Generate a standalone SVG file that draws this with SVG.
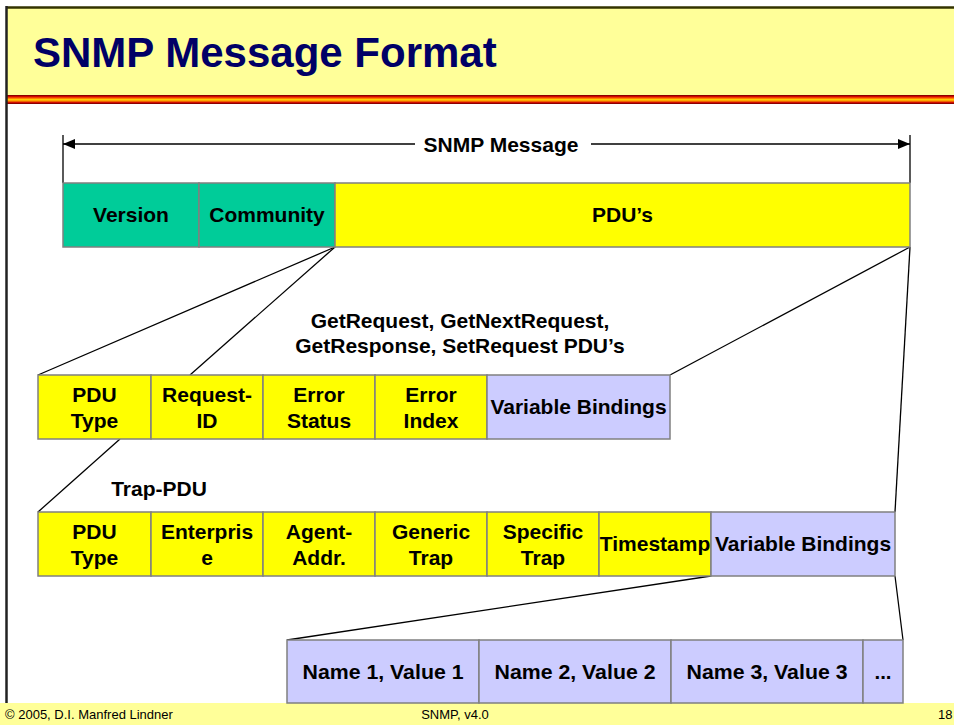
<svg xmlns="http://www.w3.org/2000/svg" width="954" height="725" viewBox="0 0 954 725">
  <style>
    .lbl { font-family: "Liberation Sans", Arial, sans-serif; font-weight: bold; font-size: 21px; fill: #000; text-anchor: middle; }
    .small { font-size: 20.5px; }
    .foot { font-family: "Liberation Sans", Arial, sans-serif; font-size: 13px; fill: #000; }
    .teal { fill: #00CC99; stroke: #808080; stroke-width: 1.5; }
    .yel { fill: #FFFF00; stroke: #808080; stroke-width: 1.5; }
    .lav { fill: #CCCCFF; stroke: #808080; stroke-width: 1.5; }
    .conn { stroke: #000; stroke-width: 1.3; fill: none; }
  </style>
  <defs>
    <linearGradient id="stripe" x1="0" y1="0" x2="0" y2="1">
      <stop offset="0" stop-color="#660000"/>
      <stop offset="0.15" stop-color="#CC0000"/>
      <stop offset="0.35" stop-color="#FF6600"/>
      <stop offset="0.5" stop-color="#FFCC00"/>
      <stop offset="0.65" stop-color="#FF9900"/>
      <stop offset="0.85" stop-color="#CC0000"/>
      <stop offset="1" stop-color="#660000"/>
    </linearGradient>
    <marker id="ah" viewBox="0 0 12 10" refX="12" refY="5" markerWidth="12" markerHeight="10" markerUnits="userSpaceOnUse" orient="auto-start-reverse">
      <path d="M0,0 L12,5 L0,10 Z" fill="#000"/>
    </marker>
  </defs>

  <rect width="954" height="725" fill="#fff"/>

  <!-- header band -->
  <rect x="7" y="7" width="947" height="88" fill="#FFFF99"/>
  <rect x="7" y="95" width="947" height="9" fill="url(#stripe)"/>
  <line x1="6" y1="7.5" x2="954" y2="7.5" stroke="#333300" stroke-width="2.5"/>
  <line x1="6.5" y1="6" x2="6.5" y2="703" stroke="#222" stroke-width="2.5"/>
  <text x="33" y="67" font-family="'Liberation Sans', Arial, sans-serif" font-weight="bold" font-size="42" fill="#000066">SNMP Message Format</text>

  <!-- footer band -->
  <rect x="0" y="703" width="954" height="22" fill="#FFFF99"/>
  <text class="foot" x="5" y="719">© 2005, D.I. Manfred Lindner</text>
  <text class="foot" x="455" y="719" text-anchor="middle">SNMP, v4.0</text>
  <text class="foot" x="938" y="719">18</text>

  <!-- connectors -->
  <g id="connectors">
    <line class="conn" x1="63" y1="135" x2="63" y2="183"/>
    <line class="conn" x1="910" y1="135" x2="910" y2="183"/>
    <line class="conn" x1="415" y1="144" x2="63" y2="144" marker-end="url(#ah)"/>
    <line class="conn" x1="591" y1="144" x2="910" y2="144" marker-end="url(#ah)"/>
    <line class="conn" x1="335" y1="247" x2="38" y2="375"/>
    <line class="conn" x1="335" y1="247" x2="190" y2="375"/>
    <line class="conn" x1="910" y1="247" x2="670" y2="375"/>
    <line class="conn" x1="910" y1="247" x2="895" y2="512"/>
    <line class="conn" x1="120" y1="439" x2="38" y2="512"/>
    <line class="conn" x1="711" y1="576" x2="287" y2="640"/>
    <line class="conn" x1="895" y1="576" x2="903" y2="640"/>
  </g>
  <text class="lbl" x="501" y="152">SNMP Message</text>

  <!-- SNMP message -->
  <g id="version"><rect class="teal" x="63" y="183" width="136" height="64"/><text class="lbl" x="131" y="222">Version</text></g>
  <g id="community"><rect class="teal" x="199" y="183" width="136" height="64"/><text class="lbl" x="267" y="222">Community</text></g>
  <g id="pdus"><rect class="yel" x="335" y="183" width="575" height="64"/><text class="lbl" x="622.5" y="222">PDU’s</text></g>

  <text class="lbl" x="460" y="328">GetRequest, GetNextRequest,</text>
  <text class="lbl" x="460" y="353">GetResponse, SetRequest PDU’s</text>

  <!-- request PDU -->
  <g id="req-type"><rect class="yel" x="38" y="375" width="113" height="64"/><text class="lbl" x="94.5" y="402">PDU</text><text class="lbl" x="94.5" y="428">Type</text></g>
  <g id="req-id"><rect class="yel" x="151" y="375" width="112" height="64"/><text class="lbl" x="207" y="402">Request-</text><text class="lbl" x="207" y="428">ID</text></g>
  <g id="req-status"><rect class="yel" x="263" y="375" width="112" height="64"/><text class="lbl" x="319" y="402">Error</text><text class="lbl" x="319" y="428">Status</text></g>
  <g id="req-index"><rect class="yel" x="375" y="375" width="112" height="64"/><text class="lbl" x="431" y="402">Error</text><text class="lbl" x="431" y="428">Index</text></g>
  <g id="req-vb"><rect class="lav" x="487" y="375" width="183" height="64"/><text class="lbl" x="578.5" y="414">Variable Bindings</text></g>

  <text class="lbl" x="159" y="496">Trap-PDU</text>

  <!-- trap PDU -->
  <g id="trap-type"><rect class="yel" x="38" y="512" width="113" height="64"/><text class="lbl" x="94.5" y="539">PDU</text><text class="lbl" x="94.5" y="565">Type</text></g>
  <g id="trap-ent"><rect class="yel" x="151" y="512" width="112" height="64"/><text class="lbl" x="207" y="539">Enterpris</text><text class="lbl" x="207" y="565">e</text></g>
  <g id="trap-addr"><rect class="yel" x="263" y="512" width="112" height="64"/><text class="lbl" x="319" y="539">Agent-</text><text class="lbl" x="319" y="565">Addr.</text></g>
  <g id="trap-generic"><rect class="yel" x="375" y="512" width="112" height="64"/><text class="lbl" x="431" y="539">Generic</text><text class="lbl" x="431" y="565">Trap</text></g>
  <g id="trap-specific"><rect class="yel" x="487" y="512" width="112" height="64"/><text class="lbl" x="543" y="539">Specific</text><text class="lbl" x="543" y="565">Trap</text></g>
  <g id="trap-time"><rect class="yel" x="599" y="512" width="112" height="64"/><text class="lbl" x="655" y="551">Timestamp</text></g>
  <g id="trap-vb"><rect class="lav" x="711" y="512" width="184" height="64"/><text class="lbl" x="803" y="551">Variable Bindings</text></g>

  <!-- variable bindings -->
  <g id="vb1"><rect class="lav" x="287" y="640" width="192" height="63"/><text class="lbl small" x="383" y="679" textLength="161" lengthAdjust="spacingAndGlyphs">Name 1, Value 1</text></g>
  <g id="vb2"><rect class="lav" x="479" y="640" width="192" height="63"/><text class="lbl small" x="575" y="679" textLength="161" lengthAdjust="spacingAndGlyphs">Name 2, Value 2</text></g>
  <g id="vb3"><rect class="lav" x="671" y="640" width="192" height="63"/><text class="lbl small" x="767" y="679" textLength="161" lengthAdjust="spacingAndGlyphs">Name 3, Value 3</text></g>
  <g id="vb-more"><rect class="lav" x="863" y="640" width="40" height="63"/><text class="lbl small" x="883" y="679">...</text></g>
</svg>
